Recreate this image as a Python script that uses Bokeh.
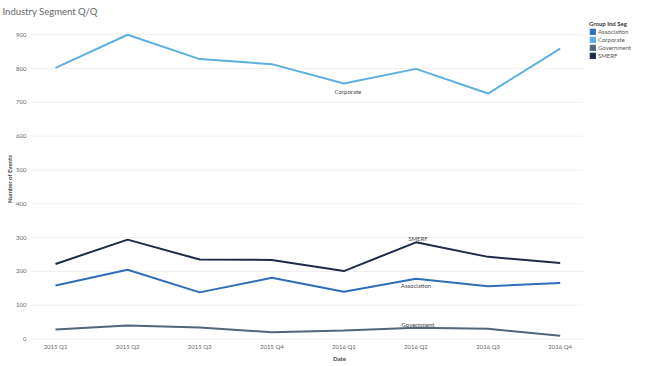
from bokeh.plotting import figure
from bokeh.models import ColumnDataSource, FixedTicker, Legend, LegendItem, Range1d
from bokeh.core.properties import value
from bokeh.embed import file_html
from bokeh.resources import INLINE

quarters = ["2015 Q1", "2015 Q2", "2015 Q3", "2015 Q4", "2016 Q1", "2016 Q2", "2016 Q3", "2016 Q4"]
association = [158, 205, 138, 181, 140, 178, 156, 166]
corporate = [802, 900, 828, 813, 756, 799, 726, 859]
government = [28, 40, 34, 20, 25, 33, 30, 10]
smerf = [222, 294, 235, 234, 201, 286, 243, 225]
y_ticks = [0, 100, 200, 300, 400, 500, 600, 700, 800, 900]

series = [
    ("Association", association, "#2f6db8"),
    ("Corporate", corporate, "#5cb0df"),
    ("Government", government, "#51667a"),
    ("SMERF", smerf, "#1c2b47"),
]
# label anchor: (quarter index, x_offset px, y_offset px)
label_pos = {
    "Association": (5, 0, 7),
    "Corporate": (4, 4, 8),
    "Government": (5, 2, -3),
    "SMERF": (5, 2, -4),
}

FONT = "Lato"
xs = list(range(len(quarters)))
X_START, X_END = -0.347, 8.225
GRID_END = xs[-1] + 0.32

p = figure(width=648, height=364, output_backend="svg", toolbar_location=None,
           x_range=Range1d(X_START, X_END), y_range=Range1d(-4.4, 951),
           min_border_left=30, min_border_right=0, min_border_top=17, min_border_bottom=19)
p.outline_line_color = None
p.background_fill_color = "white"

p.title.text = "Industry Segment Q/Q"
p.title.text_font = FONT
p.title.text_font_size = "9.5px"
p.title.text_font_style = "normal"
p.title.text_color = "#666666"
p.title.offset = -28
p.title.standoff = 2

for ax in (p.xaxis[0], p.yaxis[0]):
    ax.axis_line_color = None
    ax.major_tick_line_color = None
    ax.minor_tick_line_color = None
    ax.major_tick_out = 0
    ax.major_tick_in = 0
    ax.minor_tick_out = 0
    ax.minor_tick_in = 0
    ax.major_label_text_font = FONT
    ax.major_label_text_font_size = "6px"
    ax.major_label_text_color = "#666666"
    ax.axis_label_text_font = FONT
    ax.axis_label_text_font_size = "6px"
    ax.axis_label_text_font_style = "bold"
    ax.axis_label_text_color = "#444444"
    ax.major_label_standoff = 2
    ax.axis_label_standoff = 0

p.xaxis.ticker = FixedTicker(ticks=xs)
p.xaxis.major_label_overrides = {i: q for i, q in enumerate(quarters)}
p.xaxis.axis_label = "Date"
p.xaxis.axis_label_standoff = 2
p.yaxis.ticker = FixedTicker(ticks=y_ticks)
p.yaxis.axis_label = "Number of Events"
p.yaxis.major_label_standoff = 4

p.xgrid.grid_line_color = None
p.ygrid.grid_line_color = None
p.segment(x0=[X_START] * len(y_ticks), x1=[GRID_END] * len(y_ticks), y0=y_ticks, y1=y_ticks,
          line_color="#efefef", line_width=1)

items = []
for name, vals, color in series:
    src = ColumnDataSource(dict(x=xs, y=vals))
    p.line("x", "y", source=src, line_color=color, line_width=2)
    i, dx, dy = label_pos[name]
    p.text(x=[xs[i]], y=[vals[i]], text=[name], x_offset=dx, y_offset=dy,
           text_font=value(FONT), text_font_size="6px", text_color="#444444",
           text_align="center", text_baseline="middle")
    swatch = p.quad(left=xs, right=xs, top=vals, bottom=vals,
                    fill_color=color, line_color=color, visible=False)
    items.append(LegendItem(label=name, renderers=[swatch]))

legend = Legend(items=items, location=(559, 281), title="Group Ind Seg",
                title_text_font=FONT, title_text_font_size="6px", title_text_font_style="bold",
                title_text_color="#333333", title_standoff=1,
                label_text_font=FONT, label_text_font_size="6px", label_text_color="#555555",
                glyph_width=7, glyph_height=7, label_height=7, label_standoff=2,
                spacing=1, padding=0, margin=0, border_line_color=None,
                background_fill_alpha=0)
p.add_layout(legend, "center")

open("out.html", "w").write(file_html(p, INLINE))
